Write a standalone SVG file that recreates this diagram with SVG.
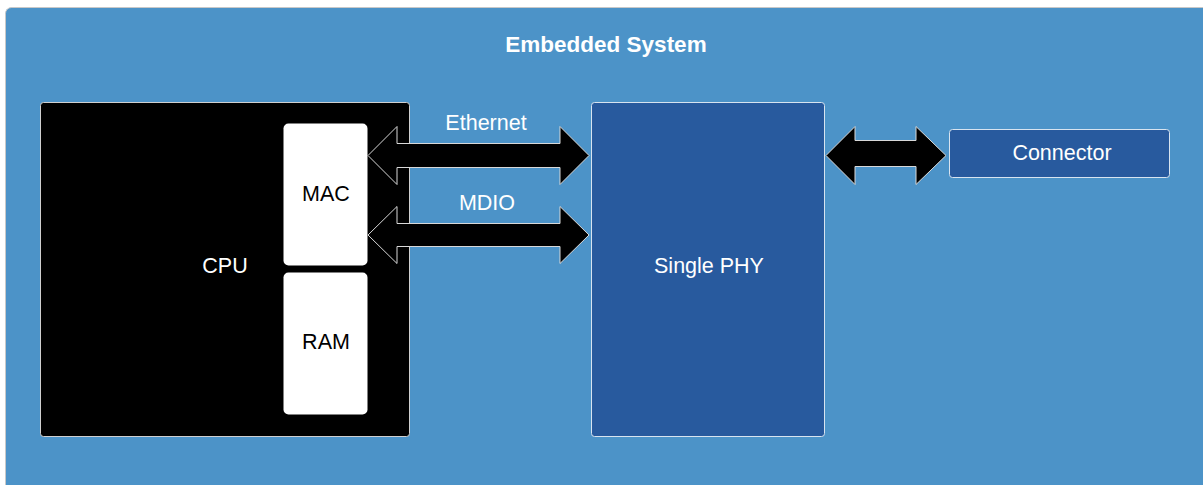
<svg xmlns="http://www.w3.org/2000/svg" width="1203" height="485" viewBox="0 0 1203 485">
<style>
.lbl{font-family:"Liberation Sans",Arial,sans-serif;font-size:21.5px;text-anchor:middle;dominant-baseline:central}
.w{fill:#ffffff}
.k{fill:#000000}
.arrow{fill:#000000;stroke:#d8d8d8;stroke-width:1}
</style>
<rect width="1203" height="485" fill="#ffffff"/>
<g id="embedded-system">
<rect x="5.5" y="7.5" width="1230" height="500" rx="6" fill="#4c93c8" stroke="#c8c8c8" stroke-width="1"/>
<text class="lbl w" x="606" y="44" style="font-weight:bold;font-size:22.5px">Embedded System</text>
</g>
<g id="cpu">
<rect x="40.5" y="102.5" width="369" height="334" rx="3" fill="#000000" stroke="#d0d0d0" stroke-width="1"/>
<text class="lbl w" x="225" y="266">CPU</text>
</g>
<g id="mac">
<rect x="283.5" y="123.5" width="84" height="142" rx="5" fill="#ffffff"/>
<text class="lbl k" x="326" y="194">MAC</text>
</g>
<g id="ram">
<rect x="283.5" y="272.5" width="84" height="142" rx="5" fill="#ffffff"/>
<text class="lbl k" x="326" y="342">RAM</text>
</g>
<g id="single-phy">
<rect x="591.5" y="102.5" width="233" height="334" rx="3" fill="#285a9e" stroke="#d8e4f0" stroke-width="1"/>
<text class="lbl w" x="709" y="266">Single PHY</text>
</g>
<g id="connector">
<rect x="949.5" y="129.5" width="220" height="48" rx="3" fill="#285a9e" stroke="#d8e4f0" stroke-width="1"/>
<text class="lbl w" x="1062" y="153">Connector</text>
</g>
<g id="connectors">
<path class="arrow" d="M368,155.5 L397,126.5 L397,143.5 L560,143.5 L560,126.5 L589,155.5 L560,184.5 L560,167.5 L397,167.5 L397,184.5 Z"/>
<text class="lbl w" x="486" y="123">Ethernet</text>
<path class="arrow" d="M368,235 L397,206.5 L397,223.5 L560,223.5 L560,206.5 L589,235 L560,263.5 L560,246.5 L397,246.5 L397,263.5 Z"/>
<text class="lbl w" x="487" y="203">MDIO</text>
<path class="arrow" d="M826,155.5 L855,126.5 L855,140.5 L916,140.5 L916,126.5 L946,155.5 L916,184.5 L916,166.5 L855,166.5 L855,184.5 Z"/>
</g>
</svg>
